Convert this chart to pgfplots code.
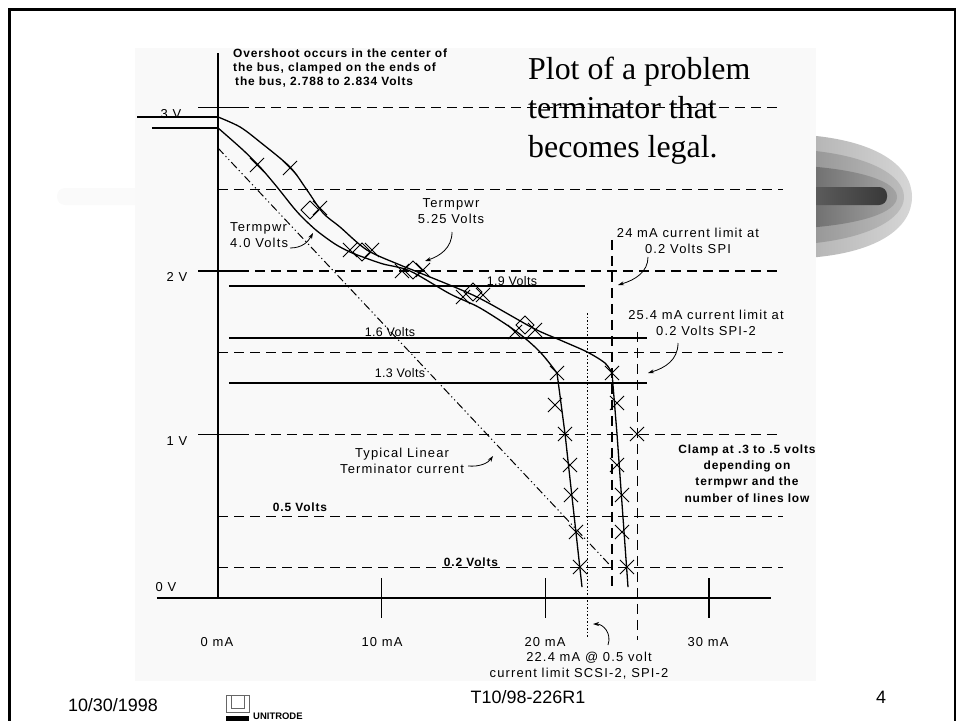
\documentclass[border=0pt]{standalone}
\usepackage{pgfplots}
\pgfplotsset{compat=1.18}
\usepackage{fontspec}
\setmainfont{Liberation Sans}
\newfontfamily\lab[LetterSpace=9]{Liberation Sans}
\newfontfamily\labs[LetterSpace=3]{Liberation Sans}
\newfontfamily\labb[LetterSpace=7]{Liberation Sans}
\newfontfamily\tms{Liberation Serif}
\usetikzlibrary{arrows.meta}
\pgfplotsset{
  pix/.style={scale only axis, width=956bp, height=721bp, xmin=0, xmax=956, ymin=0, ymax=721,
    y dir=reverse, hide axis, clip=false, at={(0,0)}, anchor=south west},
  dat/.style={scale only axis, width=956bp, height=721bp, xmin=-13.317, xmax=45.083,
    ymin=-0.7523, ymax=3.6575, hide axis, clip=false, at={(0,0)}, anchor=south west},
  ax/.style={black, line width=1.5bp, no markers},
  hd/.style={black, line width=1.1bp, no markers, dash pattern=on 10bp off 6bp},
  cv/.style={black, line width=1.3bp, no markers},
}
\tikzset{
  lbl/.style={font=\lab\fontsize{13}{16}\selectfont, inner sep=0pt, align=center},
  lbs/.style={font=\labs\fontsize{12.5}{15}\selectfont, inner sep=0pt},
  lbb/.style={font=\labb\bfseries\fontsize{12}{16.3}\selectfont, inner sep=0pt, align=center},
  arr/.style={black, line width=0.8bp, -{Stealth[length=6bp,width=4bp]}},
}
\begin{document}
\begin{tikzpicture}
% ---------------- background (pixel coordinates)
\begin{axis}[pix]
  % decorative bullet
  \shade[left color=black!30, right color=black!16] (805,135) .. controls (875,140) and (912,165) .. (912,197) .. controls (912,229) and (875,254) .. (805,258) -- cycle;
  \shade[left color=black!42, right color=black!26] (805,150) .. controls (868,155) and (904,175) .. (904,197) .. controls (904,219) and (868,239) .. (805,244) -- cycle;
  \shade[left color=black!58, right color=black!36] (805,166) .. controls (863,170) and (897,182) .. (897,197) .. controls (897,212) and (863,224) .. (805,228) -- cycle;
  \shade[left color=black!62, right color=black!78, rounded corners=8bp] (805,187) rectangle (887,205);
  \fill[black!2, rounded corners=8bp] (57,188) rectangle (145,205);
  % chart panel
  \fill[black!2.5] (135,48) rectangle (816,681);
  % slide frame
  \draw[black, line width=3bp] (9,730) -- (9,10) -- (955,10) -- (955,730);
  % logo
  \draw[black!60, line width=0.8bp] (226,695) rectangle (249,712);
  \draw[black!60, line width=0.8bp] (231,695) -- (231,708) -- (244,708) -- (244,695);
  \fill[black] (226,716) rectangle (249,724);
\end{axis}
% ---------------- data (mA, V)
\begin{axis}[dat]
  % dashed reference levels
  \addplot[hd] coordinates {(1.28,3.0) (34.2,3.0)};
  \addplot[hd] coordinates {(0,2.5) (34.5,2.5)};
  \addplot[hd] coordinates {(1.28,2.0) (34.5,2.0)};
  \addplot[hd] coordinates {(0,1.5) (34.5,1.5)};
  \addplot[hd] coordinates {(1.28,1.0) (34.5,1.0)};
  \addplot[hd] coordinates {(0,0.5) (34.5,0.5)};
  \addplot[hd] coordinates {(0,0.185) (34.5,0.185)};
  % solid levels
  \addplot[black, line width=1.1bp, no markers] coordinates {(0.67,1.908) (22.4,1.908)};
  \addplot[black, line width=1.9bp, no markers] coordinates {(0.67,1.590) (26.2,1.590)};
  \addplot[black, line width=1.2bp, no markers] coordinates {(0.67,1.315) (26.2,1.315)};
  % axes and ticks
  \addplot[ax] coordinates {(0,0) (0,3.333)};
  \addplot[ax] coordinates {(-3.73,0) (33.78,0)};
  \addplot[ax] coordinates {(-1.22,3) (1.28,3)};
  \addplot[ax] coordinates {(-1.22,2) (1.28,2)};
  \addplot[ax] coordinates {(-1.22,1) (1.28,1)};
  \addplot[ax] coordinates {(10,0.122) (10,-0.122)};
  \addplot[ax] coordinates {(20,0.122) (20,-0.122)};
  \addplot[ax] coordinates {(30,0.122) (30,-0.122)};
  % current limit verticals
  \addplot[black, line width=1bp, no markers, dash pattern=on 1.5bp off 2bp] coordinates {(22.6,1.743) (22.6,-0.245)};
  \addplot[hd] coordinates {(24.07,2.19) (24.07,0.067)};
  \addplot[hd] coordinates {(25.6,1.627) (25.6,-0.257)};
  % typical linear terminator
  \addplot[black, line width=1bp, no markers, dash pattern=on 8bp off 3bp on 1.2bp off 3bp on 1.2bp off 3bp] coordinates {(0,2.752) (23.95,0.20)};
  % Termpwr 5.25 V
  \addplot[cv] coordinates {(-4.948,2.942) (0,2.942)};
  \addplot[cv, smooth] coordinates {(0,2.942) (1.344,2.881) (2.566,2.789) (4.398,2.636) (5.437,2.495) (6.414,2.355) (7.453,2.269) (9.102,2.128) (11.118,2.037) (12.340,1.988) (15.822,1.841) (19.243,1.651) (20.892,1.578) (22.541,1.505) (23.641,1.437) (24.069,1.376)};
  \addplot[cv] coordinates {(24.069,1.376) (24.374,1.003) (25.046,0.067)};
  % Termpwr 4.0 V
  \addplot[cv] coordinates {(-4.032,2.875) (0,2.875)};
  \addplot[cv, smooth] coordinates {(0,2.875) (1.527,2.740) (2.566,2.636) (3.604,2.514) (4.582,2.391) (5.192,2.324) (6.048,2.245) (7.147,2.165) (8.064,2.116) (9.0,2.08) (10.079,2.043) (11.729,2.000) (14.172,1.860) (16.005,1.774) (18.265,1.627) (19.670,1.505) (20.709,1.376)};
  \addplot[cv] coordinates {(20.709,1.376) (21.2,1.003) (22.236,0.067)};
  % measured points
  \addplot[only marks, mark=x, mark size=10, black, line width=0.9bp] coordinates {
    (2.382,2.648) (8.064,2.128) (11.240,2.000) (14.966,1.841) (18.143,1.627) (20.709,1.376)
    (20.587,1.180) (21.197,1.003) (21.503,0.813) (21.564,0.630) (21.869,0.404) (22.114,0.190)
    (4.398,2.630) (6.231,2.385) (9.407,2.128) (12.523,2.006) (16.188,1.853) (19.365,1.639)
    (24.069,1.376) (24.374,1.193) (24.374,0.813) (24.680,0.630) (24.680,0.404) (24.985,0.190)
    (25.595,1.003)};
  \addplot[only marks, mark=square, mark size=6.4, mark options={rotate=45}, black, line width=0.9bp] coordinates {
    (5.620,2.373) (8.797,2.116) (11.912,2.006) (15.577,1.872) (18.754,1.670)};
\end{axis}
% ---------------- text and arrows (pixel coordinates)
\begin{axis}[pix]
  % axis labels
  \node[lbl] at (171,114) {3 V};
  \node[lbl] at (177,277) {2 V};
  \node[lbl] at (177,441) {1 V};
  \node[lbl] at (166,587) {0 V};
  \node[lbl] at (217,642) {0 mA};
  \node[lbl] at (382,642) {10 mA};
  \node[lbl] at (545,642) {20 mA};
  \node[lbl] at (708,642) {30 mA};
  % title
  \node[font=\tms\fontsize{32}{38.5}\selectfont, anchor=base west, inner sep=0pt] at (528,80) {Plot of a problem};
  \node[font=\tms\fontsize{32}{38.5}\selectfont, anchor=base west, inner sep=0pt] at (528,118.5) {terminator that};
  \node[font=\tms\fontsize{32}{38.5}\selectfont, anchor=base west, inner sep=0pt] at (528,157) {becomes legal.};
  % annotations
  \node[lbb, align=left, anchor=north west, font=\labb\bfseries\fontsize{12}{14}\selectfont] at (233,49) {Overshoot occurs in the center of\\the bus, clamped on the ends of\\\,the bus, 2.788 to 2.834 Volts};
  \node[lbl] at (451,211) {Termpwr\\5.25 Volts};
  \node[lbl, align=left, anchor=west] at (230,235) {Termpwr\\4.0 Volts};
  \node[lbl] at (688,240.5) {24 mA current limit at\\0.2 Volts SPI};
  \node[lbl] at (706,323) {25.4 mA current limit at\\0.2 Volts SPI-2};
  \node[lbb] at (747,473.5) {Clamp at .3 to .5 volts\\depending on\\termpwr and the\\number of lines low};
  \node[lbl] at (402,460.5) {Typical Linear\\Terminator current};
  \node[lbs] at (512,281) {1.9 Volts};
  \node[lbs] at (390,332) {1.6 Volts};
  \node[lbs] at (400,373) {1.3 Volts};
  \node[lbb] at (300,507) {0.5 Volts};
  \node[lbb] at (471,562) {0.2 Volts};
  \node[lbl] at (589,658) {22.4 mA @ 0.5 volt};
  \node[lbl] at (579,674) {current limit SCSI-2, SPI-2};
  % arrows
  \draw[arr] (290,248) .. controls (302,248) and (308,242) .. (313,233);
  \draw[arr] (452,232) .. controls (452,248) and (440,256) .. (425,261);
  \draw[arr] (648,257) .. controls (648,272) and (635,280) .. (618,285);
  \draw[arr] (678,343) .. controls (678,360) and (665,368) .. (648,373);
  \draw[arr] (468,466) .. controls (480,467) and (488,463) .. (493,456);
  \draw[arr] (608,645) .. controls (612,633) and (603,624) .. (593,624);
  % footer
  \node[font=\fontsize{18}{20}\selectfont, anchor=east, inner sep=0pt] at (158,705) {10/30/1998};
  \node[font=\fontsize{18}{20}\selectfont, inner sep=0pt] at (528,697) {T10/98-226R1};
  \node[font=\fontsize{18}{20}\selectfont, inner sep=0pt] at (881,697) {4};
  \node[font=\bfseries\fontsize{9.5}{10}\selectfont, anchor=north west, inner sep=0pt] at (253,712.5) {UNITRODE};
\end{axis}
\pgfresetboundingbox
\useasboundingbox (0,0) rectangle (956bp,721bp);
\end{tikzpicture}
\end{document}
